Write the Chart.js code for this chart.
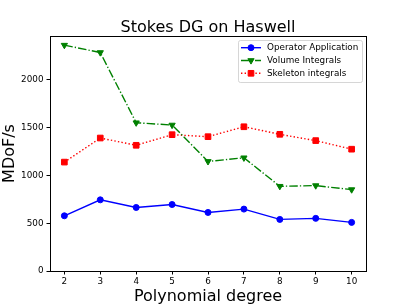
<!DOCTYPE html>
<html>
<head>
<meta charset="utf-8">
<script src="https://cdn.jsdelivr.net/npm/chart.js@4.4.1/dist/chart.umd.min.js"></script>
<style>
  html, body { margin: 0; padding: 0; background: #fff; }
</style>
</head>
<body>
<canvas id="chart" width="407" height="305"></canvas>
<script>
const degrees = [2, 3, 4, 5, 6, 7, 8, 9, 10];
const operatorApplication = [578, 745, 665, 696, 613, 648, 540, 551, 509];
const volumeIntegrals = [2364, 2287, 1552, 1528, 1147, 1185, 887, 894, 852];
const skeletonIntegrals = [1140, 1392, 1316, 1427, 1406, 1510, 1431, 1365, 1275];
const yTicks = [0, 500, 1000, 1500, 2000];

const FONT = 'DejaVu Sans';

function toPoints(values) {
  return degrees.map((d, i) => ({ x: d, y: values[i] }));
}

// box around the plot (matplotlib spines)
const frame = {
  id: 'frame',
  afterDraw(chart) {
    const { ctx, chartArea: a } = chart;
    ctx.save();
    ctx.strokeStyle = '#000';
    ctx.lineWidth = 1;
    ctx.strokeRect(Math.round(a.left) + 0.5, Math.round(a.top) + 0.5,
      Math.round(a.right - a.left), Math.round(a.bottom - a.top));
    ctx.restore();
  }
};

const plotTitle = {
  id: 'plotTitle',
  afterDraw(chart) {
    const { ctx, chartArea: a } = chart;
    ctx.save();
    ctx.fillStyle = '#000';
    ctx.font = '16px "' + FONT + '"';
    ctx.textAlign = 'center';
    ctx.textBaseline = 'alphabetic';
    ctx.fillText('Stokes DG on Haswell', (a.left + a.right) / 2, 31.5);
    ctx.restore();
  }
};

// legend in the upper right corner, line sample with marker like matplotlib
const legendBox = {
  id: 'legendBox',
  afterDraw(chart) {
    const { ctx, chartArea: a } = chart;
    const w = 124, h = 42;
    const x = a.right - 4 - w;
    const y = a.top + 4;
    ctx.save();
    ctx.globalAlpha = 0.8;
    ctx.fillStyle = '#fff';
    ctx.strokeStyle = '#cccccc';
    ctx.lineWidth = 1;
    ctx.beginPath();
    ctx.roundRect(x + 0.5, y + 0.5, w, h, 2);
    ctx.fill();
    ctx.stroke();
    ctx.globalAlpha = 1;

    chart.data.datasets.forEach((ds, i) => {
      const cy = y + 7.7 + i * 12.8;
      ctx.strokeStyle = ds.borderColor;
      ctx.lineWidth = ds.borderWidth;
      ctx.setLineDash(ds.borderDash || []);
      ctx.beginPath();
      ctx.moveTo(x + 3, cy);
      ctx.lineTo(x + 23, cy);
      ctx.stroke();
      ctx.setLineDash([]);
      ctx.fillStyle = ds.backgroundColor;
      ctx.lineWidth = 1;
      Chart.helpers.drawPoint(ctx, {
        pointStyle: ds.pointStyle,
        rotation: ds.pointRotation || 0,
        radius: ds.pointRadius,
        borderWidth: 1
      }, x + 13, cy);
      ctx.fillStyle = '#000';
      ctx.font = '8.8px "' + FONT + '"';
      ctx.textAlign = 'left';
      ctx.textBaseline = 'middle';
      ctx.fillText(ds.label, x + 29, cy);
    });
    ctx.restore();
  }
};

new Chart(document.getElementById('chart'), {
  type: 'line',
  data: {
    datasets: [
      {
        label: 'Operator Application',
        data: toPoints(operatorApplication),
        borderColor: '#0000ff',
        backgroundColor: '#0000ff',
        borderWidth: 1.4,
        pointStyle: 'circle',
        pointRadius: 3,
        pointBorderWidth: 1,
        tension: 0,
      },
      {
        label: 'Volume Integrals',
        data: toPoints(volumeIntegrals),
        borderColor: '#008000',
        backgroundColor: '#008000',
        borderWidth: 1.4,
        borderDash: [8.5, 2.1, 1.3, 2.1],
        pointStyle: 'triangle',
        pointRotation: 180,
        pointRadius: 3.6,
        pointBorderWidth: 1,
        tension: 0,
      },
      {
        label: 'Skeleton integrals',
        data: toPoints(skeletonIntegrals),
        borderColor: '#ff0000',
        backgroundColor: '#ff0000',
        borderWidth: 1.4,
        borderDash: [1.4, 2.2],
        pointStyle: 'rect',
        pointRadius: 4,
        pointBorderWidth: 1,
        tension: 0,
      },
    ],
  },
  options: {
    responsive: false,
    animation: false,
    layout: { padding: { top: 36, right: 41, left: 0, bottom: 0 } },
    plugins: {
      legend: { display: false },
      title: { display: false },
      tooltip: { enabled: false },
    },
    scales: {
      x: {
        type: 'linear',
        min: 1.6,
        max: 10.4,
        afterBuildTicks: (scale) => { scale.ticks = degrees.map(v => ({ value: v })); },
        afterFit: (scale) => { scale.height = 34; },
        grid: { display: true, drawOnChartArea: false, drawTicks: true, tickLength: 3.5, tickColor: '#000' },
        border: { display: false },
        ticks: { color: '#000', padding: 2, font: { family: FONT, size: 8.8 }, callback: (v) => String(v) },
        title: {
          display: true,
          text: 'Polynomial degree',
          color: '#000',
          font: { family: FONT, size: 16, lineHeight: 1 },
          padding: { top: 0, bottom: 0 },
        },
      },
      y: {
        min: 0,
        max: 2460,
        afterBuildTicks: (scale) => { scale.ticks = yTicks.map(v => ({ value: v })); },
        afterFit: (scale) => { scale.width = 50; },
        grid: { display: true, drawOnChartArea: false, drawTicks: true, tickLength: 3.5, tickColor: '#000' },
        border: { display: false },
        ticks: { color: '#000', padding: 3, font: { family: FONT, size: 8.8 }, callback: (v) => String(v) },
        title: {
          display: true,
          text: 'MDoF/s',
          color: '#000',
          font: { family: FONT, size: 16, lineHeight: 1 },
          padding: { top: 1.4, bottom: 0 },
        },
      },
    },
  },
  plugins: [frame, plotTitle, legendBox],
});
</script>
</body>
</html>
